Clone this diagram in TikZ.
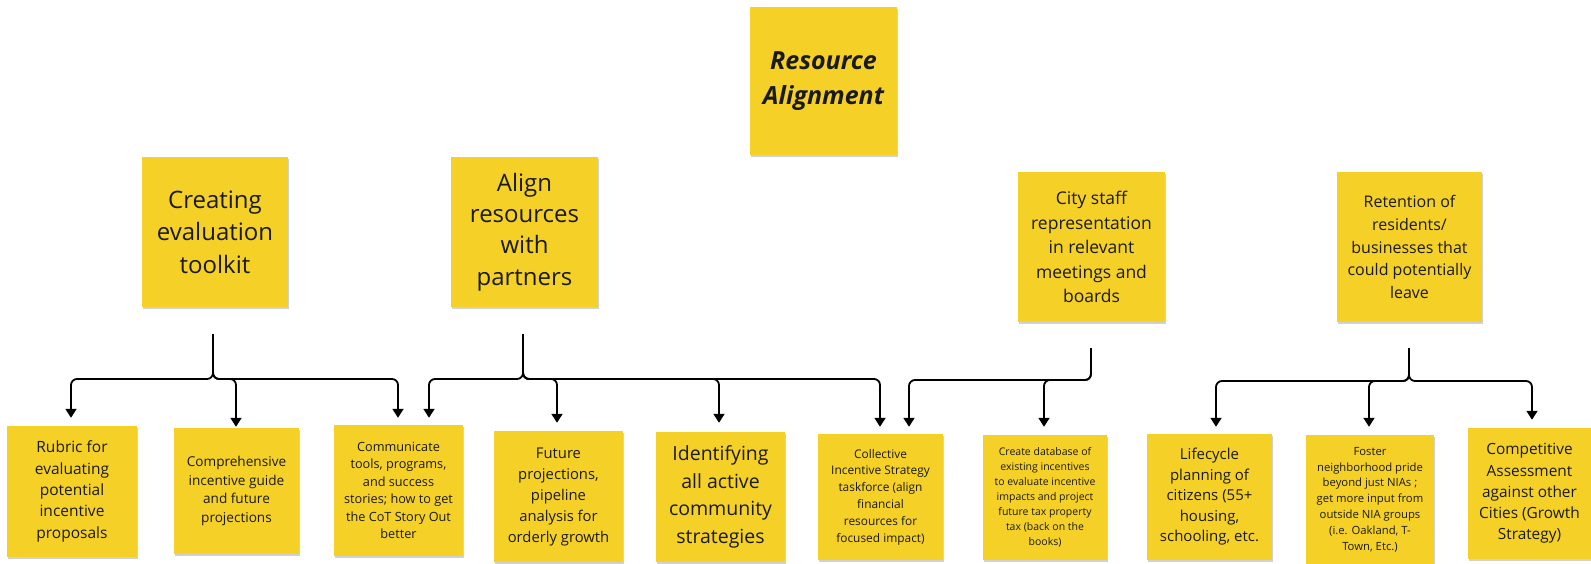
\documentclass[tikz,border=0pt]{standalone}
\usepackage{fontspec}
\setmainfont{Open Sans}
\usetikzlibrary{arrows.meta,shadows}
\definecolor{sticky}{RGB}{245,209,40}
\definecolor{ink}{RGB}{26,26,26}
\newcommand{\fs}[2]{\fontsize{#1}{#2}\selectfont}
\tikzset{
  note/.style={fill=sticky, draw=none, inner sep=0pt, align=center, text=ink,
    drop shadow={shadow xshift=0.8pt, shadow yshift=-2pt, opacity=0.18, fill=black}},
  conn/.style={draw=black, line width=1.8pt, rounded corners=6pt,
    -{Triangle[width=11pt,length=9pt]}},
}
\begin{document}
\begin{tikzpicture}[x=1pt,y=-1pt]
\useasboundingbox (0,0) rectangle (1591,564);
% title
\node[note, minimum width=147pt, minimum height=148pt, font={\fs{25}{35}\bfseries\itshape}] (title) at (823.5,81) {Resource\\Alignment};
% parents
\node[note, minimum width=146pt, minimum height=150pt, font=\fs{24}{32.5}] (p1) at (215,232) {Creating\\evaluation\\toolkit};
\node[note, minimum width=147pt, minimum height=150pt, font=\fs{24}{31.3}] (p2) at (524.5,232) {Align\\resources\\with\\partners};
\node[note, minimum width=147pt, minimum height=150pt, font=\fs{17.5}{24.5}] (p3) at (1091.5,247) {City staff\\representation\\in relevant\\meetings and\\boards};
\node[note, minimum width=145pt, minimum height=150pt, font=\fs{16}{22.8}] (p4) at (1409.5,247) {Retention of\\residents/\\businesses that\\could potentially\\leave};
% children
\node[note, minimum width=130pt, minimum height=131pt, font=\fs{15.5}{21.3}] (c1) at (72,491.5) {Rubric for\\evaluating\\potential\\incentive\\proposals};
\node[note, minimum width=125pt, minimum height=126pt, font=\fs{13.6}{18.7}] (c2) at (236.5,491) {Comprehensive\\incentive guide\\and future\\projections};
\node[note, minimum width=129pt, minimum height=131pt, font=\fs{12.7}{17.5}] (c3) at (398.5,490.5) {Communicate\\tools, programs,\\and success\\stories; how to get\\the CoT Story Out\\better};
\node[note, minimum width=129pt, minimum height=131pt, font=\fs{14.8}{21}] (c4) at (558.5,496.5) {Future\\projections,\\pipeline\\analysis for\\orderly growth};
\node[note, minimum width=129pt, minimum height=130pt, font=\fs{19.5}{27.7}] (c5) at (720.5,497) {Identifying\\all active\\community\\strategies};
\node[note, minimum width=125pt, minimum height=126pt, font=\fs{11.9}{16.8}] (c6) at (880.5,497) {Collective\\Incentive Strategy\\taskforce (align\\financial\\resources for\\focused impact)};
\node[note, minimum width=124pt, minimum height=125pt, font=\fs{10.5}{15}] (c7) at (1045,497.5) {Create database of\\existing incentives\\to evaluate incentive\\impacts and project\\future tax property\\tax (back on the\\books)};
\node[note, minimum width=125pt, minimum height=126pt, font=\fs{15}{20.5}] (c8) at (1209.5,497) {Lifecycle\\planning of\\citizens (55+\\housing,\\schooling, etc.};
\node[note, minimum width=128pt, minimum height=129pt, font=\fs{11.3}{15.8}] (c9) at (1370,499.5) {Foster\\neighborhood pride\\beyond just NIAs ;\\get more input from\\outside NIA groups\\(i.e. Oakland, T-\\Town, Etc.)};
\node[note, minimum width=123pt, minimum height=131pt, font=\fs{15.4}{21.3}] (c10) at (1529.5,493.5) {Competitive\\Assessment\\against other\\Cities (Growth\\Strategy)};
% connector start points
\coordinate (s1) at ([xshift=-2pt,yshift=-27pt]p1.south);
\coordinate (s2) at ([xshift=-1.5pt,yshift=-27pt]p2.south);
\coordinate (s3) at ([xshift=-0.5pt,yshift=-26pt]p3.south);
\coordinate (s4) at ([xshift=-0.5pt,yshift=-26pt]p4.south);
% connectors: parent 1
\draw[conn] (s1) -- (s1 |- 0,379) -| ([xshift=-1pt,yshift=8pt]c1.north);
\draw[conn] (s1) -- (s1 |- 0,379) -| ([xshift=-0.5pt,yshift=1pt]c2.north);
\draw[conn] (s1) -- (s1 |- 0,379) -| ([xshift=-0.5pt,yshift=7pt]c3.north);
% parent 2
\draw[conn] (s2) -- (s2 |- 0,379) -| ([xshift=30.5pt,yshift=7pt]c3.north);
\draw[conn] (s2) -- (s2 |- 0,379) -| ([xshift=-1.5pt,yshift=8pt]c4.north);
\draw[conn] (s2) -- (s2 |- 0,379) -| ([xshift=-1.5pt,yshift=9pt]c5.north);
\draw[conn] (s2) -- (s2 |- 0,379) -| ([xshift=-0.5pt,yshift=7pt]c6.north);
% parent 3
\draw[conn] (s3) -- (s3 |- 0,380) -| ([xshift=28.5pt,yshift=7pt]c6.north);
\draw[conn] (s3) -- (s3 |- 0,380) -| ([xshift=-1pt,yshift=8pt]c7.north);
% parent 4
\draw[conn] (s4) -- (s4 |- 0,381) -| ([xshift=6.5pt,yshift=7pt]c8.north);
\draw[conn] (s4) -- (s4 |- 0,381) -| ([xshift=-1pt,yshift=8pt]c9.north);
\draw[conn] (s4) -- (s4 |- 0,381) -| ([xshift=2.5pt,yshift=8pt]c10.north);
\end{tikzpicture}
\end{document}
